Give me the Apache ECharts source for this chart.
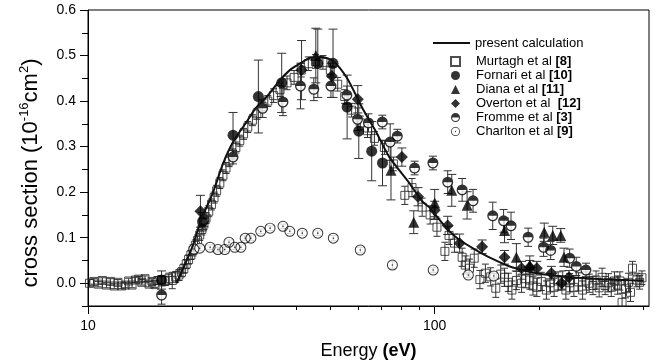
<!DOCTYPE html>
<html><head><meta charset="utf-8">
<script src="https://cdn.jsdelivr.net/npm/echarts@6/dist/echarts.min.js"></script>
<style>html,body{margin:0;padding:0;background:#fff}#c{width:660px;height:362px}</style>
</head><body><div id="c"></div>
<script>
const FONT = '"Liberation Sans", Arial, Helvetica, sans-serif';

// ---- tick values ----
const xMajorTicks = [10, 100];
const xMinorTicks = [20, 30, 40, 50, 60, 70, 80, 90, 200, 300, 400];
const yMajorTicks = [0, 0.1, 0.2, 0.3, 0.4, 0.5, 0.6];
const yMinorTicks = [-0.05, 0.05, 0.15, 0.25, 0.35, 0.45, 0.55];

// ---- series names ----
const seriesNames = ['present calculation', 'Murtagh et al [8]', 'Fornari et al [10]', 'Diana et al [11]',
  'Overton et al  [12]', 'Fromme et al [3]', 'Charlton et al [9]'];

// ---- present calculation (line) ----
const calcE = [18.0, 19.0, 20.0, 20.6, 21.5, 22.9, 24.5, 26.2, 28.7, 30.5, 32.8, 35.7, 38.2, 40.8, 43.7, 47.0,
  50.9, 55.9, 61.6, 68.0, 74.0, 84.5, 92.0, 97.0, 103, 110, 118, 135, 150, 167, 197, 240, 300, 400];
const calcV = [0.0, 0.04, 0.08, 0.11, 0.15, 0.198, 0.262, 0.31, 0.355, 0.385, 0.41, 0.445, 0.468, 0.482, 0.495, 0.497,
  0.488, 0.45, 0.387, 0.33, 0.277, 0.22, 0.18, 0.165, 0.14, 0.115, 0.095, 0.068, 0.05, 0.035, 0.022, 0.014, 0.009, 0.006];

// ---- experimental data: [energy eV, cross section, error] ----
const murtagh = [
  [10.1, 0.000, 0.008], [10.4, 0.004, 0.006], [10.7, -0.002, 0.006], [11.0, 0.006, 0.006], [11.3, -0.004, 0.006],
  [11.6, 0.004, 0.006], [11.9, -0.006, 0.006], [12.2, 0.002, 0.006], [12.5, -0.006, 0.006], [12.8, -0.004, 0.006],
  [13.1, 0.005, 0.006], [13.4, -0.004, 0.006], [13.7, 0.007, 0.006], [14.0, 0.009, 0.006], [14.3, 0.002, 0.006],
  [14.6, 0.010, 0.006], [15.0, -0.002, 0.006], [15.3, 0.004, 0.006], [15.6, -0.003, 0.006], [15.9, 0.006, 0.008],
  [16.3, 0.008, 0.008], [16.7, 0.005, 0.010], [17.1, 0.010, 0.012], [17.5, 0.006, 0.018], [17.9, 0.014, 0.012],
  [18.3, 0.018, 0.012], [18.6, 0.024, 0.010], [18.9, 0.032, 0.010], [19.2, 0.042, 0.010], [19.5, 0.052, 0.010],
  [19.8, 0.062, 0.010], [20.1, 0.072, 0.012], [20.4, 0.083, 0.012], [20.7, 0.094, 0.012], [21.0, 0.106, 0.012],
  [21.3, 0.118, 0.012], [21.6, 0.130, 0.012], [21.9, 0.143, 0.012], [22.3, 0.158, 0.012], [22.7, 0.173, 0.012],
  [23.1, 0.188, 0.012], [23.5, 0.203, 0.012], [24.0, 0.220, 0.012], [24.5, 0.237, 0.012], [25.0, 0.253, 0.012],
  [25.5, 0.268, 0.012], [26.1, 0.283, 0.012], [26.7, 0.298, 0.012], [27.4, 0.313, 0.012], [28.1, 0.328, 0.012],
  [28.9, 0.343, 0.012], [29.8, 0.358, 0.012], [30.7, 0.372, 0.012], [31.8, 0.388, 0.012], [33.0, 0.400, 0.012],
  [34.3, 0.412, 0.015], [35.8, 0.425, 0.015], [37.5, 0.440, 0.015], [39.3, 0.452, 0.015], [41.2, 0.468, 0.015],
  [43.2, 0.482, 0.015], [45.3, 0.487, 0.015], [47.6, 0.485, 0.015], [50.0, 0.468, 0.015], [52.5, 0.437, 0.015],
  [55.0, 0.410, 0.015], [57.6, 0.380, 0.015], [61.0, 0.352, 0.015], [64.0, 0.335, 0.015], [67.0, 0.318, 0.015],
  [71.6, 0.298, 0.015], [76.0, 0.262, 0.015], [82.0, 0.193, 0.020], [86.0, 0.210, 0.020], [92.0, 0.167, 0.020],
  [97.0, 0.150, 0.020], [101.5, 0.123, 0.020], [107.0, 0.070, 0.020], [110.0, 0.105, 0.020], [114.0, 0.088, 0.020],
  [120.0, 0.057, 0.020], [122.5, 0.040, 0.020], [126.0, 0.033, 0.020], [130.0, 0.055, 0.020], [135.0, 0.008, 0.020],
  [140.0, 0.022, 0.020], [145.0, 0.014, 0.020], [150.0, -0.011, 0.020], [155.0, 0.020, 0.020], [159.0, 0.013, 0.020],
  [163.0, 0.002, 0.020], [167.0, -0.015, 0.020], [172.0, 0.006, 0.020], [178.0, 0.000, 0.020], [183.0, 0.010, 0.020],
  [188.0, 0.007, 0.020], [192.0, -0.006, 0.020], [197.0, -0.009, 0.020], [203.0, 0.004, 0.020], [210.0, -0.015, 0.020],
  [215.0, 0.001, 0.020], [221.0, -0.009, 0.020], [227.0, 0.005, 0.020], [234.0, 0.007, 0.020], [239.0, -0.015, 0.020],
  [245.0, 0.001, 0.020], [252.0, -0.009, 0.020], [260.0, 0.003, 0.020], [267.0, -0.015, 0.020], [273.0, 0.005, 0.020],
  [279.0, 0.000, 0.020], [286.0, -0.005, 0.020], [292.0, 0.007, 0.020], [298.0, -0.010, 0.020], [304.0, 0.013, 0.020],
  [310.0, -0.005, 0.020], [317.0, 0.001, 0.020], [323.0, -0.009, 0.020], [330.0, 0.005, 0.020], [337.0, -0.004, 0.020],
  [342.0, 0.005, 0.020], [347.0, -0.042, 0.020], [355.0, -0.012, 0.020], [362.0, 0.002, 0.020], [367.0, -0.020, 0.020],
  [372.0, 0.033, 0.015], [383.0, 0.007, 0.015], [390.0, 0.002, 0.015], [396.0, 0.012, 0.015]
];
const fornari = [
  [16.3, 0.007, 0.020], [21.4, 0.135, 0.020], [26.2, 0.325, 0.050], [31.0, 0.410, 0.080], [36.2, 0.440, 0.065],
  [46.0, 0.483, 0.075], [50.9, 0.483, 0.075], [55.9, 0.387, 0.070], [60.4, 0.334, 0.060], [65.8, 0.290, 0.065],
  [70.7, 0.264, 0.050]
];
const diana = [
  [45.4, 0.500, 0.060], [74.8, 0.248, 0.065], [87.0, 0.134, 0.025], [100.0, 0.176, 0.030], [112.0, 0.204, 0.035],
  [124.0, 0.171, 0.030], [159.0, 0.116, 0.027], [172.0, 0.057, 0.030], [188.0, 0.040, 0.020], [207.0, 0.112, 0.020],
  [219.0, 0.105, 0.020], [231.0, 0.105, 0.015], [236.0, 0.057, 0.020]
];
const overton = [
  [21.1, 0.158, 0.035], [41.3, 0.468, 0.065], [50.5, 0.455, 0.020], [60.0, 0.404, 0.030], [80.4, 0.277, 0.020],
  [89.5, 0.190, 0.020], [100.0, 0.160, 0.020], [109.0, 0.127, 0.020], [118.0, 0.088, 0.020], [137.0, 0.080, 0.015],
  [159.0, 0.057, 0.015], [178.0, 0.033, 0.015], [188.0, 0.035, 0.015], [197.0, 0.033, 0.015], [217.0, 0.022, 0.015],
  [232.0, 0.000, 0.015], [244.0, 0.013, 0.015]
];
const fromme = [
  [16.3, -0.026, 0.020], [21.6, 0.140, 0.015], [26.2, 0.277, 0.015], [31.9, 0.384, 0.020], [36.5, 0.398, 0.030],
  [41.0, 0.433, 0.050], [44.8, 0.426, 0.025], [50.2, 0.433, 0.025], [55.8, 0.413, 0.020], [59.9, 0.360, 0.025],
  [64.4, 0.352, 0.020], [70.6, 0.354, 0.015], [74.4, 0.310, 0.040], [78.0, 0.323, 0.015], [87.5, 0.253, 0.015],
  [98.8, 0.264, 0.015], [109.0, 0.222, 0.025], [120.0, 0.205, 0.025], [129.0, 0.181, 0.025], [147.0, 0.148, 0.030],
  [158.0, 0.137, 0.025], [166.0, 0.126, 0.030], [186.0, 0.101, 0.020], [206.0, 0.079, 0.020], [216.0, 0.072, 0.020],
  [245.0, 0.055, 0.020], [256.0, 0.037, 0.020], [273.0, 0.029, 0.015]
];
const charlton = [
  [20.2, 0.075, 0.005], [21.0, 0.077, 0.005], [22.5, 0.079, 0.005], [23.7, 0.074, 0.005], [24.8, 0.074, 0.005],
  [25.5, 0.090, 0.005], [26.5, 0.079, 0.005], [27.6, 0.079, 0.005], [28.4, 0.099, 0.005], [29.5, 0.099, 0.005],
  [31.5, 0.114, 0.005], [33.5, 0.121, 0.005], [36.5, 0.125, 0.005], [38.2, 0.114, 0.005], [41.5, 0.110, 0.005],
  [46.0, 0.110, 0.005], [51.0, 0.099, 0.006], [61.0, 0.073, 0.006], [75.5, 0.040, 0.008], [99.0, 0.029, 0.005],
  [125.0, 0.018, 0.005], [148.0, 0.016, 0.005]
];

const X_MIN = 10, X_MAX = 415, Y_MIN = -0.05, Y_MAX = 0.6;

const FROMME_PATH = 'path://M0,5A5,5,0,0,1,10,5A5,5,0,0,1,0,5ZM1.2,5A3.8,3.8,0,0,0,8.8,5Z';
const CHARLTON_PATH = 'path://M0,5A5,5,0,0,1,10,5A5,5,0,0,1,0,5ZM0.9,5A4.1,4.1,0,0,0,9.1,5A4.1,4.1,0,0,0,0.9,5ZM4.3,5A0.7,0.7,0,0,1,5.7,5A0.7,0.7,0,0,1,4.3,5Z';

function pts(arr) { return arr.map(d => [d[0], d[1]]); }

function errSeries(arr, cap, color) {
  return {
    type: 'custom', name: '_err', silent: true, clip: true,
    xAxisIndex: 0, yAxisIndex: 0,
    data: arr, encode: { x: 0, y: 1 },
    renderItem: function (params, api) {
      const x = api.value(0), y = api.value(1), e = api.value(2);
      const lo = api.coord([x, y - e]), hi = api.coord([x, y + e]);
      const st = { stroke: color, lineWidth: 1, fill: null };
      return {
        type: 'group', children: [
          { type: 'line', shape: { x1: lo[0], y1: lo[1], x2: hi[0], y2: hi[1] }, style: st },
          { type: 'line', shape: { x1: lo[0] - cap, y1: lo[1], x2: lo[0] + cap, y2: lo[1] }, style: st },
          { type: 'line', shape: { x1: hi[0] - cap, y1: hi[1], x2: hi[0] + cap, y2: hi[1] }, style: st }
        ]
      };
    }
  };
}

function scatter(name, arr, symbol, size, itemStyle) {
  return {
    type: 'scatter', name: name, data: pts(arr), symbol: symbol, symbolSize: size, symbolKeepAspect: true,
    xAxisIndex: 0, yAxisIndex: 0, itemStyle: itemStyle, silent: true
  };
}

function legendFmt(name) {
  const i = name.indexOf('[');
  if (i < 0) return '{n|' + name + '}';
  return '{n|' + name.slice(0, i) + '}{b|' + name.slice(i) + '}';
}

const tickLabelStyle = { fontSize: 14, color: '#000', fontFamily: FONT };
const xNameCfg = {
  name: '{a|Energy }{b|(eV)}', nameLocation: 'middle', nameGap: 36,
  nameTextStyle: { rich: { a: { fontSize: 18, fontFamily: FONT, color: '#000' }, b: { fontSize: 18, fontWeight: 'bold', fontFamily: FONT, color: '#000' } } }
};

function buildX(useLogCustom) {
  if (useLogCustom) {
    return [
      Object.assign({
        type: 'log', logBase: 10, min: X_MIN, max: X_MAX, position: 'bottom',
        axisLine: { show: true, onZero: false, lineStyle: { color: '#000', width: 1 } },
        axisTick: { show: true, customValues: xMajorTicks, length: 8, lineStyle: { color: '#000' } },
        axisLabel: Object.assign({ customValues: xMajorTicks, margin: 13, formatter: v => String(Math.round(v)) }, tickLabelStyle),
        splitLine: { show: false }, minorTick: { show: false }
      }, xNameCfg),
      {
        type: 'log', logBase: 10, min: X_MIN, max: X_MAX, position: 'bottom',
        axisLine: { show: false, onZero: false },
        axisTick: { show: true, customValues: xMinorTicks, length: 4, lineStyle: { color: '#000' } },
        axisLabel: { show: false }, splitLine: { show: false }
      }
    ];
  }
  const lmin = Math.log10(X_MIN), lmax = Math.log10(X_MAX);
  return [
    Object.assign({
      type: 'log', logBase: 10, min: X_MIN, max: X_MAX, position: 'bottom',
      axisLine: { show: true, onZero: false, lineStyle: { color: '#000', width: 1 } },
      axisTick: { show: false },
      axisLabel: Object.assign({ show: true, showMaxLabel: false, margin: 13, formatter: v => String(Math.round(v)) }, tickLabelStyle),
      splitLine: { show: false }
    }, xNameCfg),
    {
      type: 'value', min: lmin, max: lmax, position: 'bottom',
      axisLine: { show: false, onZero: false },
      axisTick: { show: true, customValues: xMajorTicks.map(Math.log10), length: 8, lineStyle: { color: '#000' } },
      axisLabel: { show: false }, splitLine: { show: false }
    },
    {
      type: 'value', min: lmin, max: lmax, position: 'bottom',
      axisLine: { show: false, onZero: false },
      axisTick: { show: true, customValues: xMinorTicks.map(Math.log10), length: 4, lineStyle: { color: '#000' } },
      axisLabel: { show: false }, splitLine: { show: false }
    }
  ];
}

function buildOption(useLogCustom) {
  return {
    animation: false,
    backgroundColor: '#fff',
    grid: {
      left: 88, right: 11, top: 10, bottom: 56, show: true, borderColor: '#000', borderWidth: 1,
      backgroundColor: 'transparent', containLabel: false, outerBoundsMode: 'none'
    },
    legend: [
      {
        data: [{ name: seriesNames[0], icon: 'rect' }], left: 433, top: 36, padding: 0, itemWidth: 37, itemHeight: 2,
        selectedMode: false,
        textStyle: { fontSize: 13, color: '#000', fontFamily: FONT, lineHeight: 14 }
      },
      {
        data: seriesNames.slice(1), orient: 'vertical', left: 450, top: 55, padding: 0,
        itemWidth: 9, itemHeight: 9, itemGap: 1, selectedMode: false, formatter: legendFmt,
        textStyle: {
          fontSize: 13, color: '#000', fontFamily: FONT,
          rich: {
            n: { fontSize: 13, color: '#000', fontFamily: FONT, lineHeight: 14, padding: [0, 0, 0, 11] },
            b: { fontSize: 13, color: '#000', fontFamily: FONT, fontWeight: 'bold', lineHeight: 14 }
          }
        }
      }
    ],
    xAxis: buildX(useLogCustom),
    yAxis: [
      {
        type: 'value', min: Y_MIN, max: Y_MAX, position: 'left',
        axisLine: { show: true, onZero: false, lineStyle: { color: '#000', width: 1 } },
        axisTick: { show: true, customValues: yMajorTicks, length: 8, lineStyle: { color: '#000' } },
        axisLabel: Object.assign({ customValues: yMajorTicks, margin: 12, formatter: v => Number(v).toFixed(1) }, tickLabelStyle),
        splitLine: { show: false },
        name: '{a|cross section (10}{s|-16}{a|cm}{s|2}{a|)}{g|}', nameLocation: 'middle', nameRotate: 90, nameGap: 44,
        nameTextStyle: {
          rich: {
            a: { fontSize: 22, fontFamily: FONT, color: '#000', lineHeight: 26 },
            s: { fontSize: 13, fontFamily: FONT, color: '#000', verticalAlign: 'top', lineHeight: 14 },
            g: { width: 30, fontSize: 22, lineHeight: 26 }
          }
        }
      },
      {
        type: 'value', min: Y_MIN, max: Y_MAX, position: 'left',
        axisLine: { show: false, onZero: false },
        axisTick: { show: true, customValues: yMinorTicks, length: 6, lineStyle: { color: '#000' } },
        axisLabel: { show: false }, splitLine: { show: false }
      }
    ],
    series: [
      errSeries(murtagh, 3.5, '#333'),
      scatter(seriesNames[1], murtagh, 'rect', 8, { color: 'rgba(255,255,255,0)', borderColor: '#222', borderWidth: 1 }),
      scatter('_bgC', charlton, 'circle', 10, { color: '#fff' }),
      errSeries(charlton, 3.5, '#333'),
      scatter(seriesNames[6], charlton, CHARLTON_PATH, 11, { color: '#000' }),
      errSeries(fromme, 4, '#333'),
      scatter('_bgF', fromme, 'circle', 10, { color: '#fff' }),
      scatter(seriesNames[5], fromme, FROMME_PATH, 11, { color: '#000' }),
      errSeries(overton, 4.5, '#333'),
      scatter(seriesNames[4], overton, 'diamond', 12, { color: '#000' }),
      errSeries(diana, 4.5, '#333'),
      scatter(seriesNames[3], diana, 'triangle', 11, { color: '#000' }),
      errSeries(fornari, 4.5, '#333'),
      scatter(seriesNames[2], fornari, 'circle', 11, { color: '#000' }),
      {
        type: 'line', name: seriesNames[0], data: calcE.map((e, i) => [e, calcV[i]]),
        xAxisIndex: 0, yAxisIndex: 0, symbol: 'none', smooth: 0.25, silent: true,
        lineStyle: { color: '#111', width: 2 }, itemStyle: { color: '#111' }
      }
    ]
  };
}

const chart = echarts.init(document.getElementById('c'), null, { renderer: 'canvas' });
chart.setOption(buildOption(true));
try {
  const m = chart.getModel();
  const a0 = m.getComponent('xAxis', 0).axis;
  const a1 = m.getComponent('xAxis', 1).axis;
  const ok = a1.getTicksCoords().length >= 8 && a0.getViewLabels().length >= 2;
  if (!ok) chart.setOption(buildOption(false), true);
} catch (e) {
  chart.setOption(buildOption(false), true);
}
</script></body></html>
